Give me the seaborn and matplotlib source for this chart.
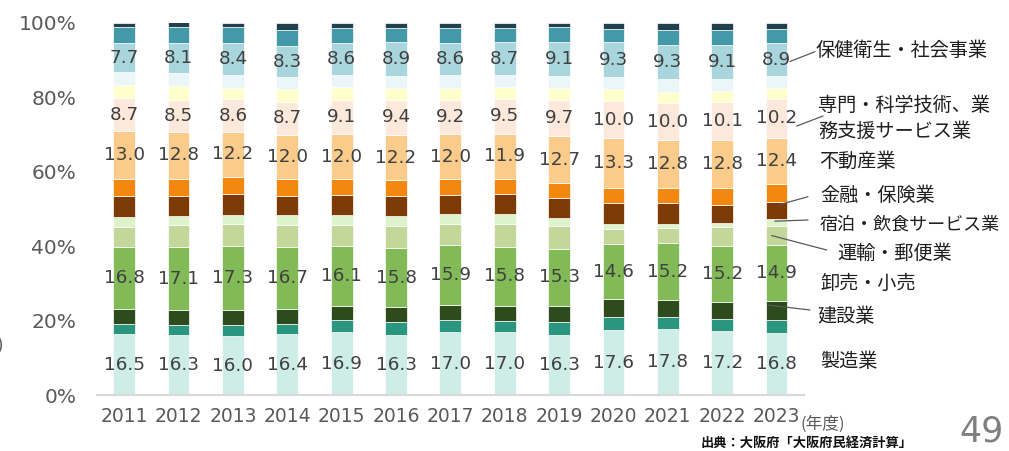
import numpy as np
import pandas as pd
import matplotlib
matplotlib.use("Agg")
import matplotlib.pyplot as plt
import seaborn as sns

# ---- data (%) ----
years = [str(y) for y in range(2011, 2024)]

seizo     = [16.5, 16.3, 16.0, 16.4, 16.9, 16.3, 17.0, 17.0, 16.3, 17.6, 17.8, 17.2, 16.8]  # 製造業
denki     = [2.7, 2.7, 3.0, 2.9, 3.3, 3.3, 3.2, 3.1, 3.3, 3.4, 3.2, 3.2, 3.4]              # 電気・ガス・水道等
kensetsu  = [3.9, 3.8, 3.8, 3.9, 3.9, 4.1, 4.2, 4.0, 4.5, 4.9, 4.6, 4.6, 5.2]              # 建設業
oroshi    = [16.8, 17.1, 17.3, 16.7, 16.1, 15.8, 15.9, 15.8, 15.3, 14.6, 15.2, 15.2, 14.9]  # 卸売・小売
unyu      = [5.4, 5.8, 5.8, 5.8, 5.6, 6.0, 5.8, 6.0, 6.0, 4.2, 4.1, 4.9, 5.2]              # 運輸・郵便業
shukuhaku = [2.7, 2.4, 2.6, 2.7, 2.5, 2.6, 2.6, 2.7, 2.3, 1.4, 1.2, 1.3, 1.8]              # 宿泊・飲食
kinyu     = [5.4, 5.4, 5.5, 5.2, 5.5, 5.4, 5.2, 5.4, 5.4, 5.6, 5.4, 4.8, 4.6]              # 金融・保険業
joho      = [4.6, 4.5, 4.6, 4.4, 4.3, 4.2, 4.2, 4.2, 3.8, 4.0, 4.1, 4.5, 4.9]              # 情報通信業
fudosan   = [13.0, 12.8, 12.2, 12.0, 12.0, 12.2, 12.0, 11.9, 12.7, 13.3, 12.8, 12.8, 12.4]  # 不動産業
senmon    = [8.7, 8.5, 8.6, 8.7, 9.1, 9.4, 9.2, 9.5, 9.7, 10.0, 10.0, 10.1, 10.2]          # 専門・科学技術
komu      = [3.6, 3.8, 3.1, 3.4, 3.5, 3.3, 3.3, 3.1, 3.1, 3.1, 3.1, 3.1, 3.0]              # 公務
kyoiku    = [3.5, 3.4, 3.6, 3.3, 3.2, 3.2, 3.3, 3.3, 3.4, 3.3, 3.3, 3.3, 3.2]              # 教育
hoken     = [7.7, 8.1, 8.4, 8.3, 8.6, 8.9, 8.6, 8.7, 9.1, 9.3, 9.3, 9.1, 8.9]              # 保健衛生・社会事業
sonota    = [4.3, 4.3, 4.3, 4.3, 4.2, 4.0, 4.2, 4.0, 3.9, 3.6, 3.9, 3.9, 3.8]              # その他サービス
etc       = [1.2, 1.2, 1.2, 2.0, 1.3, 1.3, 1.3, 1.3, 1.2, 1.7, 2.0, 2.0, 1.7]              # その他

# bottom -> top
segments = [
    ("製造業", seizo, "#CDEDE6", True),
    ("電気・ガス・水道", denki, "#2A9680", False),
    ("建設業", kensetsu, "#2E4B1E", False),
    ("卸売・小売", oroshi, "#82BA58", True),
    ("運輸・郵便業", unyu, "#C4D79B", False),
    ("宿泊・飲食サービス業", shukuhaku, "#DDF3CC", False),
    ("金融・保険業", kinyu, "#7B3A06", False),
    ("情報通信業", joho, "#F2880F", False),
    ("不動産業", fudosan, "#FACB8A", True),
    ("専門・科学技術", senmon, "#FDE9DB", True),
    ("公務", komu, "#FFFFCC", False),
    ("教育", kyoiku, "#EAF6F8", False),
    ("保健衛生・社会事業", hoken, "#A9D6DD", True),
    ("その他サービス", sonota, "#4399A8", False),
    ("その他", etc, "#22414F", False),
]

sns.set_theme(style="white")
plt.rcParams["font.family"] = ["DejaVu Sans", "Noto Sans CJK JP"]
JP = ["Noto Sans CJK JP", "DejaVu Sans"]

W, H = 1009, 451
fig = plt.figure(figsize=(W / 100, H / 100), dpi=100)
ax = fig.add_axes([0.0962, 0.1231, 0.7003, 0.8266])

bottom = np.zeros(len(years))
seg_pos = {}
for name, vals, col, labelled in segments:
    df = pd.DataFrame({"年度": years, "share": vals})
    sns.barplot(data=df, x="年度", y="share", color=col, saturation=1, width=0.4,
                bottom=bottom, errorbar=None, edgecolor="white", linewidth=0.5, ax=ax)
    v = np.array(vals)
    seg_pos[name] = (bottom[-1], v[-1])
    if labelled:
        for i, val in enumerate(v):
            ax.text(i, bottom[i] + val / 2, f"{val:.1f}", ha="center", va="center",
                    fontsize=13.2, color="#404040")
    bottom = bottom + v

ax.set_xlim(-0.5, 12.5)
ax.set_ylim(0, 100)
ax.set_yticks(range(0, 101, 20))
ax.set_yticklabels([f"{t}%" for t in range(0, 101, 20)], fontsize=14.5, color="#595959")
ax.set_xticks(range(len(years)))
ax.set_xticklabels(years, fontsize=13.5, color="#595959")
ax.tick_params(axis="y", length=0, pad=15)
ax.tick_params(axis="x", length=0, pad=8)
ax.set_xlabel("")
ax.set_ylabel("")
for s in ["left", "top", "right"]:
    ax.spines[s].set_visible(False)
ax.spines["bottom"].set_color("#D9D9D9")
ax.spines["bottom"].set_linewidth(1.5)

# ---- right-side industry labels ----
def fy(py):
    return H - py

labels = [
    ("保健衛生・社会事業", 815, 50.5, 13.8),
    ("専門・科学技術、業", 818, 105, 13.8),
    ("務支援サービス業", 818, 131.5, 13.8),
    ("不動産業", 819, 161.5, 13.8),
    ("金融・保険業", 820, 195, 13.8),
    ("宿泊・飲食サービス業", 820, 225, 13),
    ("運輸・郵便業", 837, 253, 13.8),
    ("卸売・小売", 820, 283, 13.8),
    ("建設業", 817, 317, 13.8),
    ("製造業", 820, 361.5, 13.8),
]
for txt, px, py, fs in labels:
    fig.text(px / W, fy(py) / H, txt, ha="left", va="center", fontsize=fs,
             color="#1F1F1F", family=JP)

# leader lines: (segment, x in data, fraction within segment, end pixel)
leaders = [
    ("保健衛生・社会事業", 12.25, 0.45, (815, 51.7)),
    ("専門・科学技術", 12.37, 0.3, (823, 116)),
    ("金融・保険業", 12.06, 0.85, (808, 196.7)),
    ("宿泊・飲食サービス業", 11.97, 0.7, (808, 220)),
    ("運輸・郵便業", 11.91, 0.5, (826.7, 250)),
    ("建設業", 11.84, 0.78, (810, 310)),
]
for name, xd, frac, (ex, ey) in leaders:
    b, h = seg_pos[name]
    ax.annotate("", xy=(xd, b + frac * h), xycoords="data",
                xytext=(ex, fy(ey)), textcoords="figure pixels",
                arrowprops=dict(arrowstyle="-", color="#595959", lw=0.9,
                                shrinkA=0, shrinkB=0),
                annotation_clip=False)

# ---- misc text ----
fig.text(800 / W, fy(424) / H, "(年度)", ha="left", va="center", fontsize=12,
         color="#595959", family=JP)
fig.text(701 / W, fy(443) / H, "出典：大阪府「大阪府民経済計算」", ha="left", va="center",
         fontsize=9.5, color="#111111", family=JP, weight="bold")
fig.text(959 / W, fy(432) / H, "49", ha="left", va="center", fontsize=25, color="#7F7F7F")
fig.text(4 / W, fy(346) / H, "(%)", ha="right", va="center", fontsize=12, color="#595959")

fig.savefig("out.png", dpi=100)
